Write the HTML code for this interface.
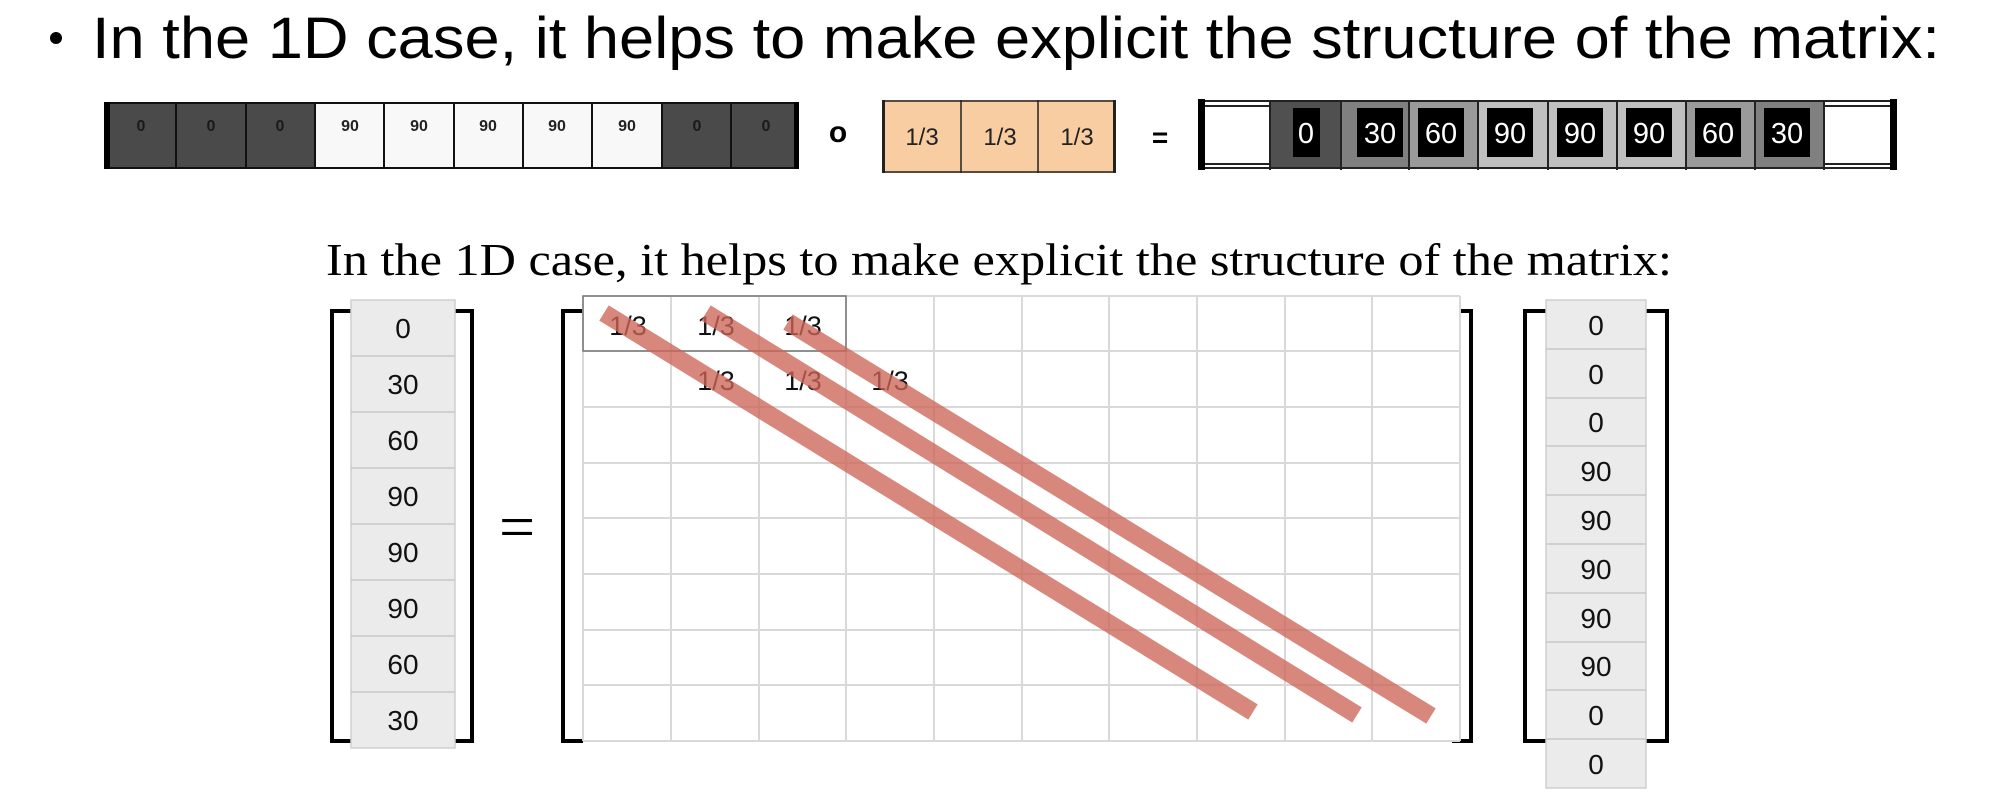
<!DOCTYPE html>
<html><head><meta charset="utf-8"><style>
html,body{margin:0;padding:0;background:#fff;}
svg{display:block;}
</style></head><body>
<svg width="2004" height="802" viewBox="0 0 2004 802" xmlns="http://www.w3.org/2000/svg">
<circle cx="56" cy="38" r="6" fill="#000"/>
<text x="92" y="58" font-family="Liberation Sans, sans-serif" font-size="58" textLength="1848" lengthAdjust="spacingAndGlyphs" fill="#000">In the 1D case, it helps to make explicit the structure of the matrix:</text>

<g font-family="Liberation Sans, sans-serif" font-size="16" text-anchor="middle" font-weight="bold">
<rect x="104" y="102" width="695" height="67" fill="#4a4a4a"/>
<rect x="315" y="102" width="347" height="67" fill="#f8f8f8"/>
<g stroke="#111" stroke-width="2">
<line x1="104" y1="103" x2="799" y2="103"/><line x1="104" y1="168" x2="799" y2="168"/>
<line x1="176" y1="102" x2="176" y2="169"/><line x1="246" y1="102" x2="246" y2="169"/>
<line x1="315" y1="102" x2="315" y2="169"/><line x1="384" y1="102" x2="384" y2="169"/>
<line x1="454" y1="102" x2="454" y2="169"/><line x1="523" y1="102" x2="523" y2="169"/>
<line x1="592" y1="102" x2="592" y2="169"/><line x1="662" y1="102" x2="662" y2="169"/>
<line x1="731" y1="102" x2="731" y2="169"/>
</g>
<rect x="104" y="102" width="6" height="67" fill="#000"/>
<rect x="794" y="102" width="5" height="67" fill="#000"/>
<g fill="#1a1a1a">
<text x="141" y="131">0</text><text x="211" y="131">0</text><text x="280" y="131">0</text>
</g>
<g fill="#222">
<text x="350" y="131">90</text><text x="419" y="131">90</text><text x="488" y="131">90</text><text x="557" y="131">90</text><text x="627" y="131">90</text>
</g>
<g fill="#1a1a1a"><text x="697" y="131">0</text><text x="766" y="131">0</text></g>
</g>
<text x="838" y="142" font-family="Liberation Sans, sans-serif" font-size="30" font-weight="bold" text-anchor="middle">o</text>

<rect x="882" y="100" width="234" height="73" fill="#f8cda2"/>
<g stroke="#222" stroke-width="1.5">
<line x1="882" y1="101" x2="1116" y2="101"/><line x1="882" y1="172" x2="1116" y2="172"/>
<line x1="961" y1="100" x2="961" y2="173"/><line x1="1038" y1="100" x2="1038" y2="173"/>
</g>
<rect x="882" y="100" width="3" height="73" fill="#222"/><rect x="1113" y="100" width="3" height="73" fill="#222"/>
<g font-family="Liberation Sans, sans-serif" font-size="24" text-anchor="middle" fill="#222">
<text x="922" y="145">1/3</text><text x="1000" y="145">1/3</text><text x="1077" y="145">1/3</text>
</g>
<text x="1160" y="147" font-family="Liberation Sans, sans-serif" font-size="28" font-weight="bold" text-anchor="middle">=</text>

<rect x="1270" y="100" width="78" height="69" fill="#505050"/>
<rect x="1341" y="100" width="68" height="69" fill="#808080"/>
<rect x="1409" y="100" width="69" height="69" fill="#9a9a9a"/>
<rect x="1478" y="100" width="208" height="69" fill="#c0c0c0"/>
<rect x="1686" y="100" width="69" height="69" fill="#9a9a9a"/>
<rect x="1755" y="100" width="69" height="69" fill="#808080"/>
<g stroke="#222" stroke-width="2">
<line x1="1200" y1="101" x2="1895" y2="101"/><line x1="1200" y1="168" x2="1895" y2="168"/>
<line x1="1200" y1="106" x2="1270" y2="106"/><line x1="1200" y1="164" x2="1270" y2="164"/>
<line x1="1824" y1="106" x2="1895" y2="106"/><line x1="1824" y1="164" x2="1895" y2="164"/>
<line x1="1270" y1="100" x2="1270" y2="170"/><line x1="1341" y1="100" x2="1341" y2="170"/>
<line x1="1409" y1="100" x2="1409" y2="170"/><line x1="1478" y1="100" x2="1478" y2="170"/>
<line x1="1548" y1="100" x2="1548" y2="170"/><line x1="1617" y1="100" x2="1617" y2="170"/>
<line x1="1686" y1="100" x2="1686" y2="170"/><line x1="1755" y1="100" x2="1755" y2="170"/>
<line x1="1824" y1="100" x2="1824" y2="170"/>
</g>
<rect x="1198" y="99" width="7" height="71" fill="#000"/>
<rect x="1890" y="99" width="7" height="71" fill="#000"/>
<g fill="#000">
<rect x="1293" y="108" width="27" height="49"/>
<rect x="1357" y="108" width="46" height="49"/>
<rect x="1418" y="108" width="46" height="49"/>
<rect x="1487" y="108" width="46" height="49"/>
<rect x="1557" y="108" width="46" height="49"/>
<rect x="1626" y="108" width="46" height="49"/>
<rect x="1695" y="108" width="46" height="49"/>
<rect x="1764" y="108" width="46" height="49"/>
</g>
<g font-family="Liberation Sans, sans-serif" font-size="29" text-anchor="middle" fill="#fff">
<text x="1306" y="143">0</text><text x="1380" y="143">30</text><text x="1441" y="143">60</text>
<text x="1510" y="143">90</text><text x="1580" y="143">90</text><text x="1649" y="143">90</text>
<text x="1718" y="143">60</text><text x="1787" y="143">30</text>
</g>

<text x="326" y="275" font-family="Liberation Serif, serif" font-size="46" textLength="1346" lengthAdjust="spacingAndGlyphs" fill="#000">In the 1D case, it helps to make explicit the structure of the matrix:</text>

<g fill="none" stroke="#000" stroke-width="4">
<polyline points="352,311 332,311 332,741 352,741"/>
<polyline points="454,311 472,311 472,741 454,741"/>
</g>
<rect x="351" y="300" width="104" height="448" fill="#ebebeb" stroke="#cfcfcf" stroke-width="1.5"/>
<g stroke="#c8c8c8" stroke-width="1.5">
<line x1="351" y1="356" x2="455" y2="356"/><line x1="351" y1="412" x2="455" y2="412"/>
<line x1="351" y1="468" x2="455" y2="468"/><line x1="351" y1="524" x2="455" y2="524"/>
<line x1="351" y1="580" x2="455" y2="580"/><line x1="351" y1="636" x2="455" y2="636"/>
<line x1="351" y1="692" x2="455" y2="692"/>
</g>
<g font-family="Liberation Sans, sans-serif" font-size="28" text-anchor="middle" fill="#111">
<text x="403" y="338">0</text><text x="403" y="394">30</text><text x="403" y="450">60</text>
<text x="403" y="506">90</text><text x="403" y="562">90</text><text x="403" y="618">90</text>
<text x="403" y="674">60</text><text x="403" y="730">30</text>
</g>
<text x="517" y="548" font-family="Liberation Serif, serif" font-size="64" text-anchor="middle">=</text>

<g fill="none" stroke="#000" stroke-width="4">
<polyline points="583,311 563,311 563,741 583,741"/>
<polyline points="1452,311 1471,311 1471,741 1452,741"/>
</g>
<rect x="583" y="296" width="877" height="445" fill="#fff"/>
<g stroke="#d9d9d9" stroke-width="2">
<line x1="583" y1="296" x2="1460" y2="296"/>
<line x1="583" y1="351" x2="1460" y2="351"/><line x1="583" y1="407" x2="1460" y2="407"/>
<line x1="583" y1="463" x2="1460" y2="463"/><line x1="583" y1="518" x2="1460" y2="518"/>
<line x1="583" y1="574" x2="1460" y2="574"/><line x1="583" y1="630" x2="1460" y2="630"/>
<line x1="583" y1="685" x2="1460" y2="685"/><line x1="583" y1="741" x2="1460" y2="741"/>
<line x1="583" y1="296" x2="583" y2="741"/><line x1="671" y1="296" x2="671" y2="741"/>
<line x1="759" y1="296" x2="759" y2="741"/><line x1="846" y1="296" x2="846" y2="741"/>
<line x1="934" y1="296" x2="934" y2="741"/><line x1="1022" y1="296" x2="1022" y2="741"/>
<line x1="1109" y1="296" x2="1109" y2="741"/><line x1="1197" y1="296" x2="1197" y2="741"/>
<line x1="1285" y1="296" x2="1285" y2="741"/><line x1="1372" y1="296" x2="1372" y2="741"/>
<line x1="1460" y1="296" x2="1460" y2="741"/>
</g>
<rect x="583" y="296" width="263" height="55" fill="none" stroke="#777" stroke-width="1.5"/>
<g font-family="Liberation Sans, sans-serif" font-size="27" text-anchor="middle" fill="#111">
<text x="628" y="335">1/3</text><text x="716" y="335">1/3</text><text x="803" y="335">1/3</text>
<text x="716" y="390">1/3</text><text x="803" y="390">1/3</text><text x="890" y="390">1/3</text>
</g>
<g stroke="#cd6558" stroke-opacity="0.78" stroke-width="18" stroke-linecap="butt">
<line x1="604" y1="313" x2="1253" y2="712"/>
<line x1="706" y1="313" x2="1357" y2="715"/>
<line x1="788" y1="322" x2="1431" y2="716"/>
</g>

<g fill="none" stroke="#000" stroke-width="4">
<polyline points="1546,311 1525,311 1525,741 1546,741"/>
<polyline points="1646,311 1667,311 1667,741 1646,741"/>
</g>
<rect x="1546" y="300" width="100" height="488" fill="#ebebeb" stroke="#cfcfcf" stroke-width="1.5"/>
<g stroke="#c8c8c8" stroke-width="1.5">
<line x1="1546" y1="349" x2="1646" y2="349"/><line x1="1546" y1="398" x2="1646" y2="398"/>
<line x1="1546" y1="446" x2="1646" y2="446"/><line x1="1546" y1="495" x2="1646" y2="495"/>
<line x1="1546" y1="544" x2="1646" y2="544"/><line x1="1546" y1="593" x2="1646" y2="593"/>
<line x1="1546" y1="642" x2="1646" y2="642"/><line x1="1546" y1="690" x2="1646" y2="690"/>
<line x1="1546" y1="739" x2="1646" y2="739"/>
</g>
<g font-family="Liberation Sans, sans-serif" font-size="28" text-anchor="middle" fill="#111">
<text x="1596" y="335">0</text><text x="1596" y="384">0</text><text x="1596" y="432">0</text>
<text x="1596" y="481">90</text><text x="1596" y="530">90</text><text x="1596" y="579">90</text>
<text x="1596" y="628">90</text><text x="1596" y="676">90</text><text x="1596" y="725">0</text>
<text x="1596" y="774">0</text>
</g>
</svg>
</body></html>
